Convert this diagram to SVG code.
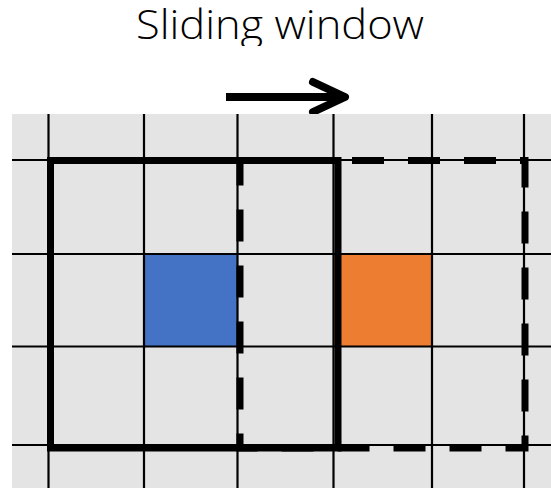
<svg xmlns="http://www.w3.org/2000/svg" width="551" height="488" viewBox="0 0 551 488">
<style>
.grid line{stroke:#000;stroke-width:2.2}
.win{fill:none;stroke:#000;stroke-width:7}
.dash{stroke-dasharray:32 24}
.title{font-family:"Open Sans","Liberation Sans",sans-serif;font-weight:300;font-size:40px;fill:#000}
</style>
<defs>
<clipPath id="tclip"><rect x="0" y="0" width="551" height="46"/></clipPath>
</defs>
<rect width="551" height="488" fill="#fff"/>
<g id="title" clip-path="url(#tclip)">
<text class="title" x="136" y="39" textLength="288" lengthAdjust="spacingAndGlyphs">Sliding window</text>
</g>
<g id="arrow" stroke="#000" stroke-width="8" fill="none">
<line x1="226" y1="97" x2="342" y2="97"/>
<polyline points="313,82 345,97 313,112" stroke-linecap="round" stroke-linejoin="round"/>
</g>
<g id="board">
<rect x="12" y="114" width="539" height="374" fill="#e4e4e4"/>
<rect id="blue" x="144" y="254" width="93" height="92" fill="#4472c4"/>
<rect id="orange" x="334" y="254" width="98" height="92" fill="#ed7d31"/>
<g class="grid">
<line x1="48.5" y1="114" x2="48.5" y2="488"/>
<line x1="144" y1="114" x2="144" y2="488"/>
<line x1="237.5" y1="114" x2="237.5" y2="488"/>
<line x1="333.5" y1="114" x2="333.5" y2="488"/>
<line x1="432" y1="114" x2="432" y2="488"/>
<line x1="524" y1="114" x2="524" y2="488"/>
<line x1="12" y1="160" x2="551" y2="160"/>
<line x1="12" y1="254" x2="551" y2="254"/>
<line x1="12" y1="346.5" x2="551" y2="346.5"/>
<line x1="12" y1="445" x2="551" y2="445"/>
</g>
</g>
<g id="windows">
<rect id="window-current" class="win" x="50.5" y="160.5" width="287.5" height="287.5"/>
<rect id="window-next" class="win dash" x="240" y="160.5" width="285" height="287.5"/>
</g>
</svg>
